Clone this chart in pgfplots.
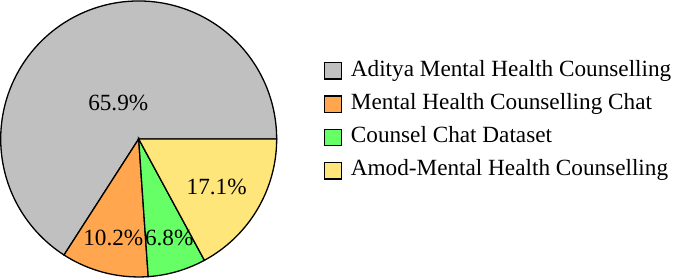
\documentclass[border=0pt]{standalone}
\usepackage{fontspec}
\setmainfont{Liberation Serif}
\usepackage{pgfplots}
\usepackage{pgfplotstable}
\pgfplotsset{compat=1.18}
\definecolor{cgray}{RGB}{192,192,192}
\definecolor{corange}{RGB}{255,166,79}
\definecolor{cgreen}{RGB}{102,255,102}
\definecolor{cyellow}{RGB}{255,230,122}
\pgfplotstableread{
value
65.9
10.2
6.8
17.1
}\piedata
\begin{document}
\begin{tikzpicture}
\pgfplotstablegetelem{0}{value}\of\piedata\let\vA\pgfplotsretval
\pgfplotstablegetelem{1}{value}\of\piedata\let\vB\pgfplotsretval
\pgfplotstablegetelem{2}{value}\of\piedata\let\vC\pgfplotsretval
\pgfplotstablegetelem{3}{value}\of\piedata\let\vD\pgfplotsretval
\pgfmathsetmacro\aA{0}
\pgfmathsetmacro\aB{\aA+3.6*\vA}
\pgfmathsetmacro\aC{\aB+3.6*\vB}
\pgfmathsetmacro\aD{\aC+3.6*\vC}
\pgfmathsetmacro\aE{\aD+3.6*\vD}
\begin{axis}[
  x=138bp, y=138bp,
  xmin=-1.005, xmax=3.959, ymin=-1.007, ymax=1.007,
  hide axis, clip=false,
  scale only axis,
  legend cell align=left,
  legend style={draw=none, fill=none, inner sep=0pt, outer sep=0pt,
    at={(axis cs:1.343,0.601)}, anchor=north west,
    font=\fontsize{23.3}{23.3}\selectfont, row sep=0pt, column sep=9bp,
    nodes={inner sep=0pt, text height=20bp, text depth=13.3bp}},
  legend image code/.code={\draw[#1, draw=black, line width=1.4bp] (0bp,-6.5bp) rectangle (16.5bp,10bp);},
]
\path[draw=none] (axis cs:-1.005,-1.007) rectangle (axis cs:3.959,1.007);
\addplot[draw=black, fill=cgray, line width=1.3bp, domain=\aA:\aB, samples=150, variable=\t]
  ({cos(t)},{sin(t)}) -- (axis cs:0,0) -- cycle;
\addlegendentry{Aditya Mental Health Counselling}
\addplot[draw=black, fill=corange, line width=1.3bp, domain=\aB:\aC, samples=40, variable=\t]
  ({cos(t)},{sin(t)}) -- (axis cs:0,0) -- cycle;
\addlegendentry{Mental Health Counselling Chat}
\addplot[draw=black, fill=cgreen, line width=1.3bp, domain=\aC:\aD, samples=30, variable=\t]
  ({cos(t)},{sin(t)}) -- (axis cs:0,0) -- cycle;
\addlegendentry{Counsel Chat Dataset}
\addplot[draw=black, fill=cyellow, line width=1.3bp, domain=\aD:\aE, samples=60, variable=\t]
  ({cos(t)},{sin(t)}) -- (axis cs:0,0) -- cycle;
\addlegendentry{Amod-Mental Health Counselling}
\begin{scope}[font=\fontsize{23.3}{23.3}\selectfont]
\node at (axis cs:-0.148,0.258) {65.9\%};
\node at (axis cs:-0.184,-0.72) {10.2\%};
\node at (axis cs:0.221,-0.72) {6.8\%};
\node at (axis cs:0.565,-0.346) {17.1\%};
\end{scope}
\end{axis}
\end{tikzpicture}
\end{document}
